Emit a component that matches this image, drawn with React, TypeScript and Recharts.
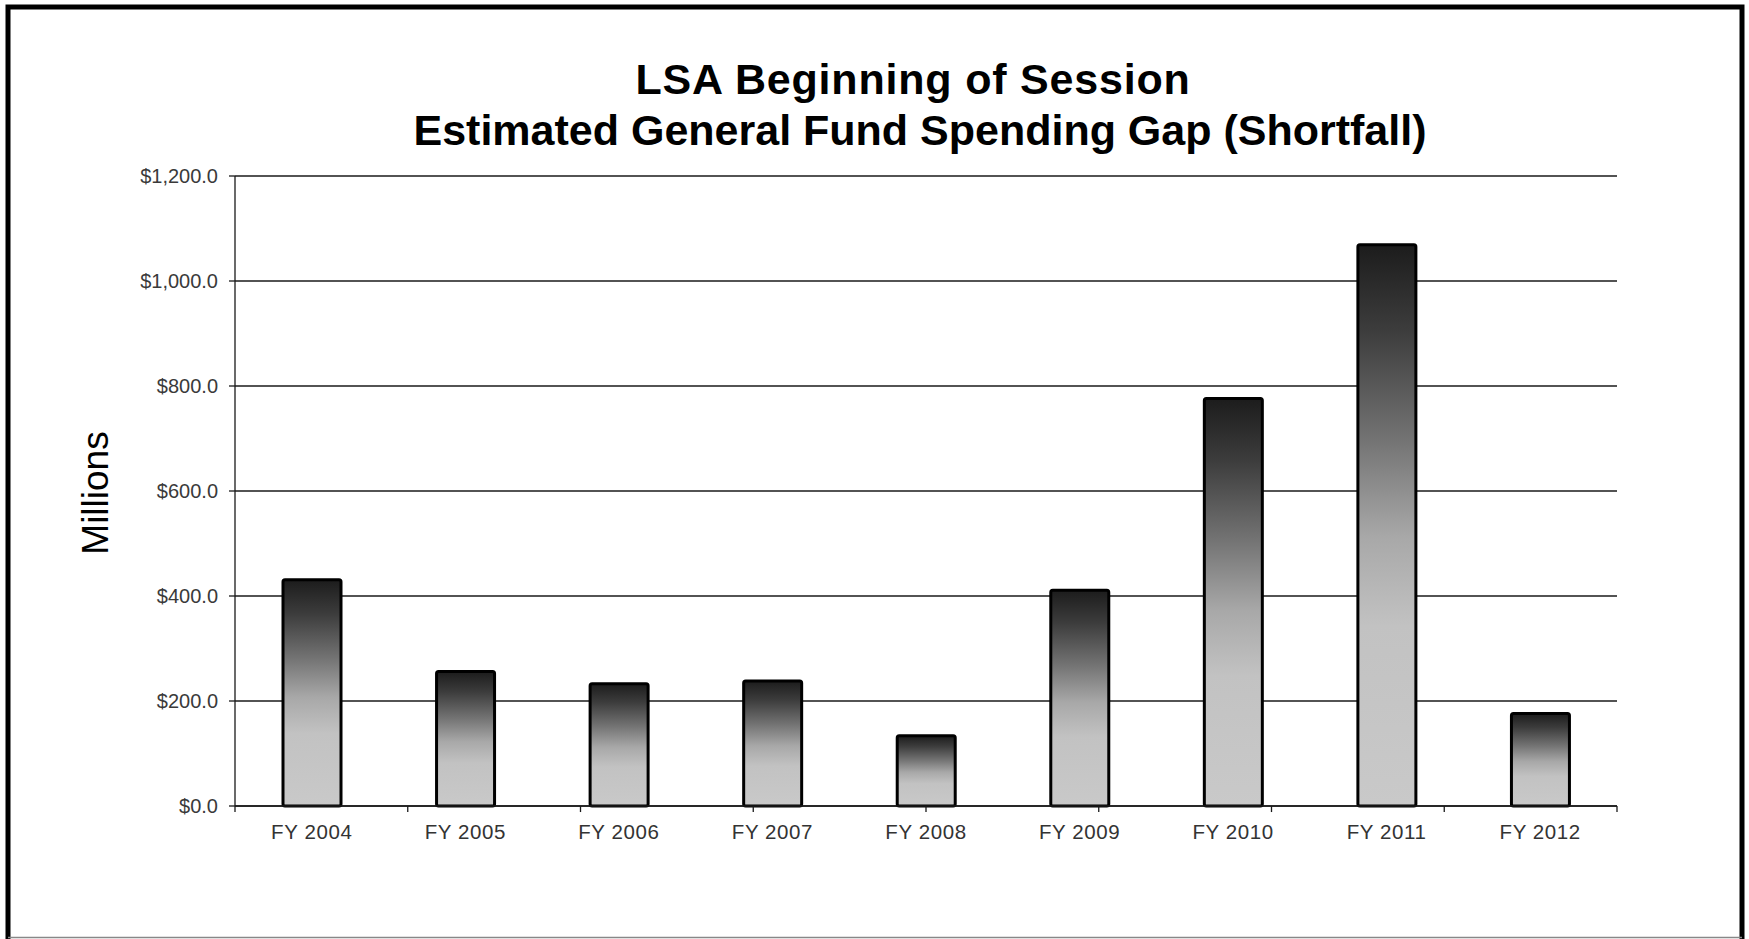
import React from 'react';
import { BarChart, Bar, XAxis, YAxis, CartesianGrid, ReferenceLine } from 'recharts';

const categories = ['FY 2004', 'FY 2005', 'FY 2006', 'FY 2007', 'FY 2008', 'FY 2009', 'FY 2010', 'FY 2011', 'FY 2012'];
const gapValues = [431, 256, 233, 238, 134, 411, 776, 1069, 176];
const yTicks = [0, 200, 400, 600, 800, 1000, 1200];
const edgeTicks = [0, 1, 2, 3, 4, 5, 6, 7, 8, 9];
const titleLines = ['LSA Beginning of Session', 'Estimated General Fund Spending Gap (Shortfall)'];
const yAxisTitle = 'Millions';

const data = categories.map((c, i) => ({ name: c, gap: gapValues[i] }));

const FONT = '"Liberation Sans", Arial, Helvetica, sans-serif';

const fmt = (v: number) =>
  '$' + v.toLocaleString('en-US', { minimumFractionDigits: 1, maximumFractionDigits: 1 });

export default function App() {
  return (
    <div style={{ position: 'absolute', left: 0, top: 0, width: 1749, height: 939, background: '#fff', overflow: 'hidden' }}>
      <svg width={0} height={0} style={{ position: 'absolute' }}>
        <defs>
          <linearGradient id="barGrad" x1="0" y1="0" x2="0" y2="1">
            <stop offset="0%" stopColor="#1c1c1c" />
            <stop offset="15%" stopColor="#3c3c3c" />
            <stop offset="35%" stopColor="#747474" />
            <stop offset="52%" stopColor="#a8a8a8" />
            <stop offset="68%" stopColor="#c2c2c2" />
            <stop offset="100%" stopColor="#c9c9c9" />
          </linearGradient>
        </defs>
      </svg>
      <div style={{ position: 'absolute', left: 0, top: 0 }}>
        <BarChart
          width={1749}
          height={939}
          data={data}
          margin={{ top: 176, right: 132, bottom: 73, left: 0 }}
        >
          <CartesianGrid vertical={false} stroke="#1a1a1a" strokeWidth={1.3} />
          <XAxis
            xAxisId="cat"
            dataKey="name"
            height={60}
            tickLine={false}
            tickSize={0}
            tickMargin={18}
            axisLine={{ stroke: '#1a1a1a', strokeWidth: 1.3 }}
            tick={{ fill: '#333', fontSize: 20.5, fontFamily: FONT, letterSpacing: 0.6 }}
            interval={0}
          />
          <XAxis xAxisId="edges" type="number" domain={[0, 9]} ticks={edgeTicks} hide />
          <YAxis
            width={235}
            domain={[0, 1200]}
            ticks={yTicks}
            tickFormatter={fmt}
            tickSize={6}
            tickMargin={11}
            tickLine={{ stroke: '#1a1a1a', strokeWidth: 1.3 }}
            axisLine={{ stroke: '#1a1a1a', strokeWidth: 1.3 }}
            tick={{ fill: '#3a3a3a', fontSize: 20, fontFamily: FONT }}
            interval={0}
          />
          {edgeTicks.map((t) => (
            <ReferenceLine
              key={t}
              xAxisId="edges"
              ifOverflow="visible"
              segment={[{ x: t, y: 0 }, { x: t, y: -11.5 }]}
              stroke="#1a1a1a"
              strokeWidth={1.3}
            />
          ))}
          <Bar
            xAxisId="cat"
            dataKey="gap"
            barSize={58}
            fill="url(#barGrad)"
            stroke="#000"
            strokeWidth={3}
            radius={2}
            isAnimationActive={false}
          />
        </BarChart>
      </div>
      <svg width={1749} height={939} style={{ position: 'absolute', left: 0, top: 0, pointerEvents: 'none' }}>
        <text x={913} y={94} textAnchor="middle" fontFamily={FONT} fontWeight="bold" fontSize={43} fill="#000" letterSpacing={0.8}>
          {titleLines[0]}
        </text>
        <text x={920} y={145} textAnchor="middle" fontFamily={FONT} fontWeight="bold" fontSize={43} fill="#000">
          {titleLines[1]}
        </text>
        <text
          x={95}
          y={493}
          transform="rotate(-90 95 493)"
          textAnchor="middle"
          dominantBaseline="central"
          fontFamily={FONT}
          fontSize={37}
          fill="#000"
        >
          {yAxisTitle}
        </text>
        <rect x={8} y={7} width={1734} height={960} fill="none" stroke="#000" strokeWidth={5} />
        <line x1={8} y1={937.5} x2={1742} y2={937.5} stroke="#888" strokeWidth={1.5} />
      </svg>
    </div>
  );
}
